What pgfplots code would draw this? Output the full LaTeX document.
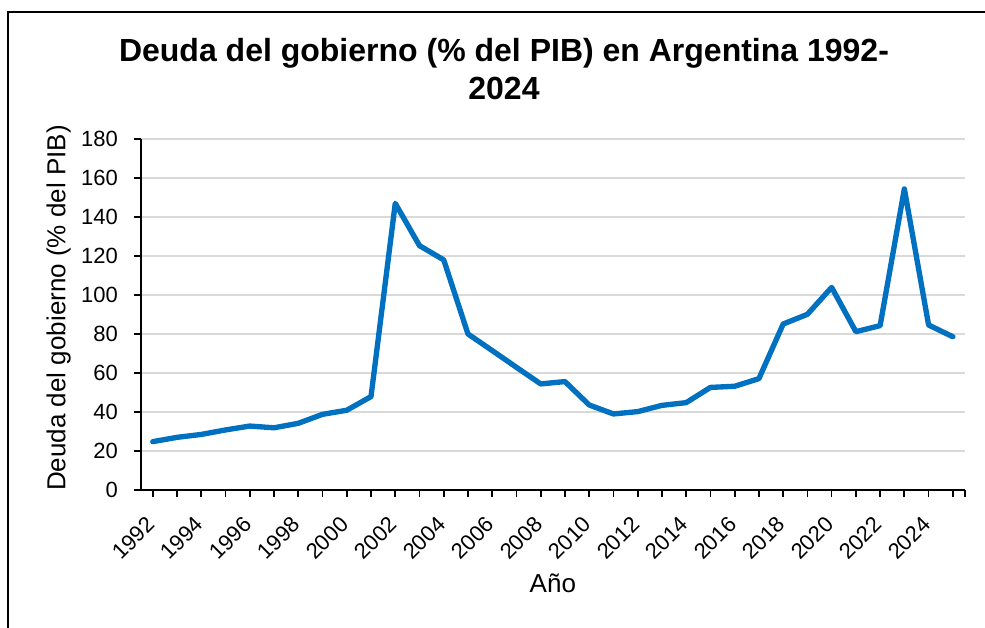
\documentclass[border=0pt]{standalone}
\usepackage{pgfplots}
\pgfplotsset{compat=1.18}
\usepackage{fontspec}
\setmainfont{Liberation Sans}
\definecolor{lineblue}{HTML}{0070C0}
\definecolor{gridgray}{HTML}{D9D9D9}
\begin{document}
\begin{tikzpicture}
\useasboundingbox (0pt,0pt) rectangle (738.75pt,471pt);
\draw[line width=1.4pt,black] (6pt,0pt) -- (6pt,462pt) -- (738.75pt,462pt);
\node[anchor=base,font=\fontsize{24pt}{28pt}\selectfont\bfseries] at (378pt,424.5pt) {Deuda del gobierno (\% del PIB) en Argentina 1992-};
\node[anchor=base,font=\fontsize{24pt}{28pt}\selectfont\bfseries] at (378pt,396pt) {2024};
\begin{axis}[
  at={(105.525pt,103.5pt)}, anchor=south west,
  width=618.2pt, height=263.25pt, scale only axis,
  xmin=1991.5, xmax=2025.5, ymin=0, ymax=180,
  axis lines=left, axis line style={-, line width=1.3pt, black},
  xtick={1992,1994,...,2024},
  xticklabels={1992,1994,1996,1998,2000,2002,2004,2006,2008,2010,2012,2014,2016,2018,2020,2022,2024},
  minor xtick={1993,1995,1997,1999,2001,2003,2005,2007,2009,2011,2013,2015,2017,2019,2021,2023,2025,2025.5},
  ytick={0,20,...,180},
  tick align=outside,
  tick style={line width=1.3pt, black},
  major tick length=5pt, minor tick length=5pt,
  ymajorgrids=true, xmajorgrids=false, xminorgrids=false,
  major grid style={line width=1.2pt, gridgray},
  /pgf/number format/assume math mode=true,
  /pgf/number format/1000 sep={},
  tick label style={font=\fontsize{16.5pt}{19pt}\selectfont},
  xticklabel style={yshift=-18pt, xshift=-1.5pt, rotate=45, anchor=east, inner sep=0pt},
  yticklabel style={anchor=east, inner sep=0pt, xshift=-12pt},
  xlabel={Año},
  ylabel={Deuda del gobierno (\% del PIB)},
  label style={font=\fontsize{19.5pt}{23pt}\selectfont},
  xlabel style={at={(axis description cs:0.5,-0.2934)}, anchor=base},
  ylabel style={at={(axis description cs:-0.0915,0.5185)}, anchor=base, rotate=0},
  clip=false,
]
\addplot[color=lineblue, line width=4pt, line join=round, line cap=round] coordinates {
(1992,24.8) (1993,27.0) (1994,28.5) (1995,30.8) (1996,32.8) (1997,31.9)
(1998,34.2) (1999,38.8) (2000,40.9) (2001,47.9) (2002,147.0) (2003,125.3)
(2004,118.0) (2005,80.0) (2006,71.5) (2007,62.9) (2008,54.4) (2009,55.6)
(2010,43.6) (2011,39.0) (2012,40.2) (2013,43.4) (2014,44.8) (2015,52.6)
(2016,53.2) (2017,57.1) (2018,85.1) (2019,90.1) (2020,103.9) (2021,81.2)
(2022,84.3) (2023,154.4) (2024,84.6) (2025,78.6)
};
\end{axis}
\end{tikzpicture}
\end{document}
